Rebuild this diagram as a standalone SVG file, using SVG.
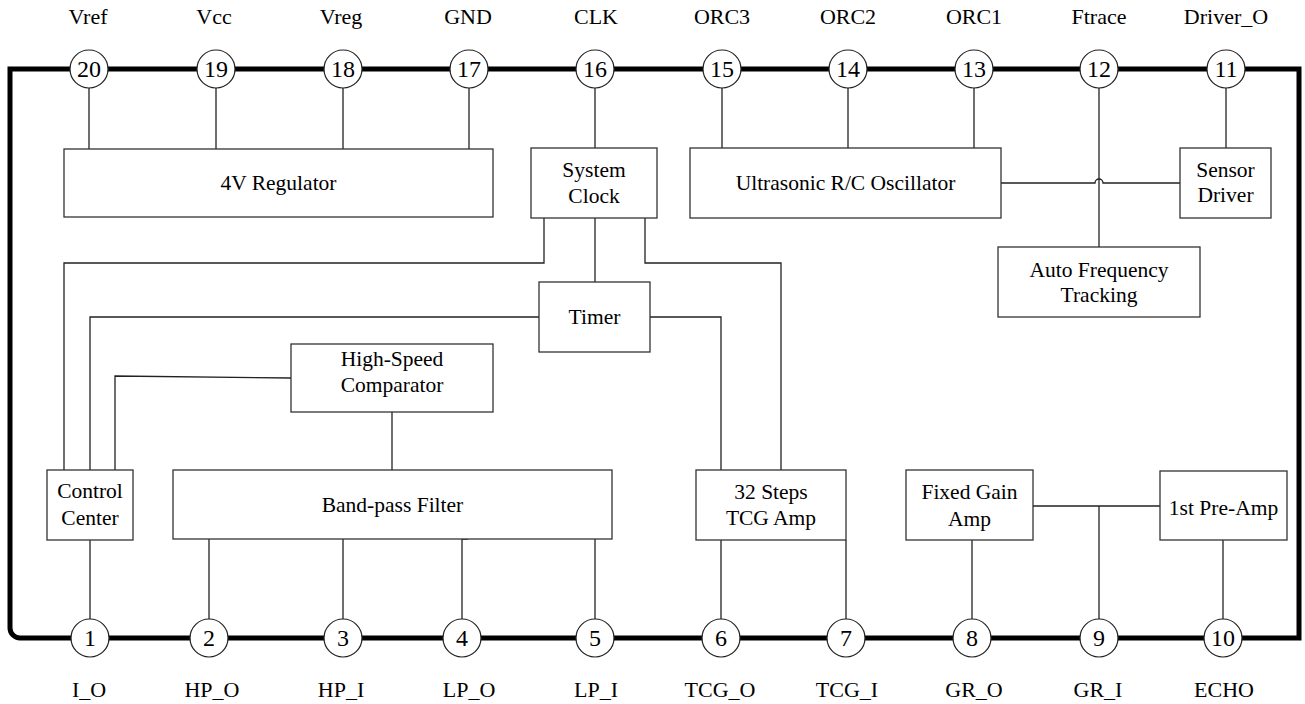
<svg xmlns="http://www.w3.org/2000/svg" width="1305" height="704" viewBox="0 0 1305 704">
<style>
text{font-family:"Liberation Serif","Times New Roman",serif;font-size:21.5px;fill:#000;text-anchor:middle}
.box{fill:#fff;stroke:#333;stroke-width:1.3}
.pin{fill:#fff;stroke:#222;stroke-width:1.2}
.num{font-size:24px}
.lbl{font-size:22px}
.wire{fill:none;stroke:#222;stroke-width:1.3}
.frame{fill:none;stroke:#000;stroke-width:5}
</style>
<rect width="1305" height="704" fill="#fff"/>
<path class="frame" d="M10 69 H1299 V638 H20 A10 10 0 0 1 10 628 Z"/>
<g id="connectors">
<path class="wire" d="M89 88 V149 M216 88 V149 M343 88 V149 M469 88 V149"/>
<path class="wire" d="M595 88 V148 M722 88 V148 M848 88 V148 M974 88 V148"/>
<path class="wire" d="M1226 88 V148"/>
<path class="wire" d="M1099 88 V247"/>
<path class="wire" d="M1001 183 H1095 A4 4 0 0 1 1103 183 H1180"/>
<path class="wire" d="M544 218 V263 H64 V470"/>
<path class="wire" d="M595 218 V282"/>
<path class="wire" d="M645 218 V263 H781 V470"/>
<path class="wire" d="M539 317 H90 V470"/>
<path class="wire" d="M650 317 H721 V470"/>
<path class="wire" d="M115 470 V376 L291 378"/>
<path class="wire" d="M392 412 V470"/>
<path class="wire" d="M90 540 V619"/>
<path class="wire" d="M209 539 V619 M343 539 V619 M595 539 V619"/>
<path class="wire" d="M468 539 H462 V619"/>
<path class="wire" d="M721 540 V619 M846 540 V619"/>
<path class="wire" d="M972 540 V619"/>
<path class="wire" d="M1033 506 H1160 M1099 506 V619"/>
<path class="wire" d="M1223 540 V619"/>
</g>
<g id="regulator"><rect class="box" x="64" y="149" width="429" height="68"/><text x="278.5" y="190">4V Regulator</text></g>
<g id="system-clock"><rect class="box" x="531" y="148" width="126" height="70"/><text x="594" y="177">System</text><text x="594" y="203">Clock</text></g>
<g id="oscillator"><rect class="box" x="690" y="148" width="311" height="70"/><text x="845.5" y="190">Ultrasonic R/C Oscillator</text></g>
<g id="sensor-driver"><rect class="box" x="1180" y="148" width="91" height="70"/><text x="1225.5" y="177">Sensor</text><text x="1225.5" y="202">Driver</text></g>
<g id="aft"><rect class="box" x="998" y="247" width="202" height="70"/><text x="1099" y="277">Auto Frequency</text><text x="1099" y="302">Tracking</text></g>
<g id="timer"><rect class="box" x="539" y="282" width="111" height="70"/><text x="594.5" y="324">Timer</text></g>
<g id="comparator"><rect class="box" x="291" y="344" width="202" height="68"/><text x="392" y="366">High-Speed</text><text x="392" y="392">Comparator</text></g>
<g id="control-center"><rect class="box" x="47" y="470" width="86" height="70"/><text x="90" y="498">Control</text><text x="90" y="525">Center</text></g>
<g id="bandpass"><rect class="box" x="173" y="470" width="439" height="69"/><text x="392.5" y="512">Band-pass Filter</text></g>
<g id="tcg-amp"><rect class="box" x="696" y="470" width="150" height="70"/><text x="771" y="499">32 Steps</text><text x="771" y="525">TCG Amp</text></g>
<g id="fixed-gain"><rect class="box" x="906" y="470" width="127" height="70"/><text x="969.5" y="499">Fixed Gain</text><text x="969.5" y="526">Amp</text></g>
<g id="preamp"><rect class="box" x="1160" y="471" width="127" height="69"/><text x="1223.5" y="515">1st Pre-Amp</text></g>
<g id="pin20"><circle class="pin" cx="89" cy="69" r="19"/><text class="num" x="89" y="77">20</text><text class="lbl" x="88" y="24">Vref</text></g>
<g id="pin19"><circle class="pin" cx="216" cy="69" r="19"/><text class="num" x="216" y="77">19</text><text class="lbl" x="214" y="24">Vcc</text></g>
<g id="pin18"><circle class="pin" cx="343" cy="69" r="19"/><text class="num" x="343" y="77">18</text><text class="lbl" x="341" y="24">Vreg</text></g>
<g id="pin17"><circle class="pin" cx="469" cy="69" r="19"/><text class="num" x="469" y="77">17</text><text class="lbl" x="468" y="24">GND</text></g>
<g id="pin16"><circle class="pin" cx="595" cy="69" r="19"/><text class="num" x="595" y="77">16</text><text class="lbl" x="596" y="24">CLK</text></g>
<g id="pin15"><circle class="pin" cx="722" cy="69" r="19"/><text class="num" x="722" y="77">15</text><text class="lbl" x="722" y="24">ORC3</text></g>
<g id="pin14"><circle class="pin" cx="848" cy="69" r="19"/><text class="num" x="848" y="77">14</text><text class="lbl" x="848" y="24">ORC2</text></g>
<g id="pin13"><circle class="pin" cx="974" cy="69" r="19"/><text class="num" x="974" y="77">13</text><text class="lbl" x="974" y="24">ORC1</text></g>
<g id="pin12"><circle class="pin" cx="1099" cy="69" r="19"/><text class="num" x="1099" y="77">12</text><text class="lbl" x="1099" y="24">Ftrace</text></g>
<g id="pin11"><circle class="pin" cx="1226" cy="69" r="19"/><text class="num" x="1226" y="77">11</text><text class="lbl" x="1226" y="24">Driver_O</text></g>
<g id="pin1"><circle class="pin" cx="90" cy="638" r="19"/><text class="num" x="90" y="646">1</text><text class="lbl" x="89" y="697">I_O</text></g>
<g id="pin2"><circle class="pin" cx="209" cy="638" r="19"/><text class="num" x="209" y="646">2</text><text class="lbl" x="212" y="697">HP_O</text></g>
<g id="pin3"><circle class="pin" cx="343" cy="638" r="19"/><text class="num" x="343" y="646">3</text><text class="lbl" x="341" y="697">HP_I</text></g>
<g id="pin4"><circle class="pin" cx="462" cy="638" r="19"/><text class="num" x="462" y="646">4</text><text class="lbl" x="469" y="697">LP_O</text></g>
<g id="pin5"><circle class="pin" cx="595" cy="638" r="19"/><text class="num" x="595" y="646">5</text><text class="lbl" x="596" y="697">LP_I</text></g>
<g id="pin6"><circle class="pin" cx="721" cy="638" r="19"/><text class="num" x="721" y="646">6</text><text class="lbl" x="720" y="697">TCG_O</text></g>
<g id="pin7"><circle class="pin" cx="846" cy="638" r="19"/><text class="num" x="846" y="646">7</text><text class="lbl" x="847" y="697">TCG_I</text></g>
<g id="pin8"><circle class="pin" cx="972" cy="638" r="19"/><text class="num" x="972" y="646">8</text><text class="lbl" x="974" y="697">GR_O</text></g>
<g id="pin9"><circle class="pin" cx="1099" cy="638" r="19"/><text class="num" x="1099" y="646">9</text><text class="lbl" x="1098" y="697">GR_I</text></g>
<g id="pin10"><circle class="pin" cx="1223" cy="638" r="19"/><text class="num" x="1223" y="646">10</text><text class="lbl" x="1224" y="697">ECHO</text></g>
</svg>
